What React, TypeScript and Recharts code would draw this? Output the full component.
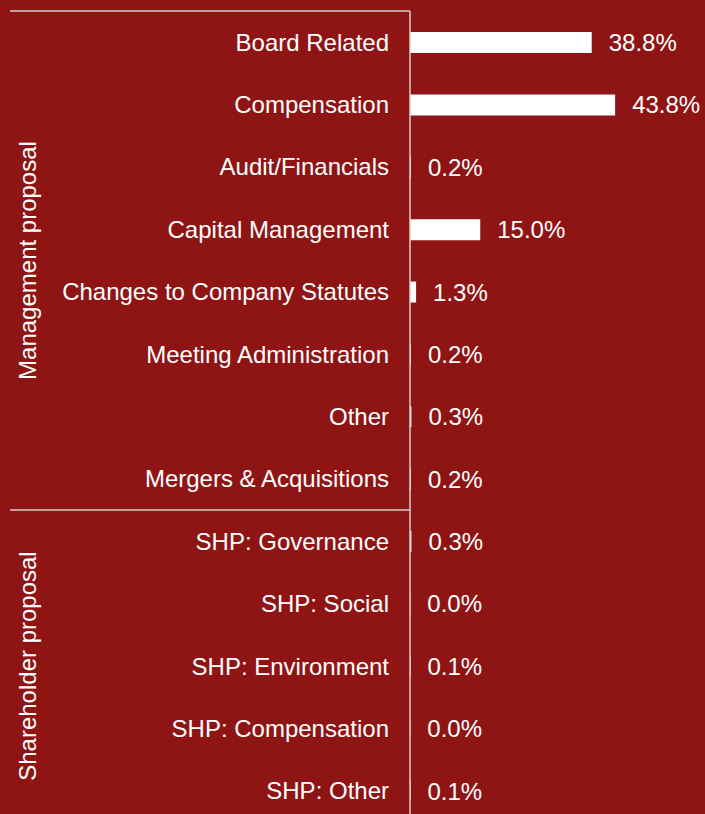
import { BarChart, Bar, XAxis, YAxis, LabelList } from "recharts";

const categories = [
  "Board Related",
  "Compensation",
  "Audit/Financials",
  "Capital Management",
  "Changes to Company Statutes",
  "Meeting Administration",
  "Other",
  "Mergers & Acquisitions",
  "SHP: Governance",
  "SHP: Social",
  "SHP: Environment",
  "SHP: Compensation",
  "SHP: Other",
];
const shares = [38.8, 43.8, 0.2, 15.0, 1.3, 0.2, 0.3, 0.2, 0.3, 0.0, 0.1, 0.0, 0.1];
const groups = [
  { name: "Management proposal", first: "Board Related", count: 8 },
  { name: "Shareholder proposal", first: "SHP: Governance", count: 5 },
];

const data = categories.map((c, i) => ({ category: c, value: shares[i] }));

const W = 705;
const H = 832;
const MARGIN = { top: 11, right: 14, bottom: 10, left: 0 };
const AXIS_W = 410;
const BAND = (H - MARGIN.top - MARGIN.bottom) / categories.length;
const FONT = "'Liberation Sans', Arial, sans-serif";
const FS = 24;
const BG = "#8f1515";
const LINE = "#d4cfcf";

function GroupTick(props: any) {
  const { y, payload } = props;
  const group = groups.find((g) => g.first === payload.value);
  const top = y - BAND / 2;
  const mid = top + (group ? group.count * BAND : 0) / 2;
  return (
    <g>
      <text x={AXIS_W - 21} y={y} textAnchor="end" dominantBaseline="central" fill="#fff" fontSize={FS} fontFamily={FONT}>
        {payload.value}
      </text>
      {group && (
        <g>
          <line x1={10} x2={AXIS_W} y1={top} y2={top} stroke={LINE} strokeWidth={1.5} />
          <text
            x={28}
            y={mid}
            transform={`rotate(-90, 28, ${mid})`}
            textAnchor="middle"
            dominantBaseline="central"
            fill="#fff"
            fontSize={FS}
            fontFamily={FONT}
          >
            {group.name}
          </text>
        </g>
      )}
    </g>
  );
}

export default function App() {
  return (
    <div style={{ position: "fixed", left: 0, top: 0, width: W, height: 814, overflow: "hidden", background: BG }}>
      <BarChart width={W} height={H} data={data} layout="vertical" margin={MARGIN} barCategoryGap={0}>
        <XAxis type="number" domain={[0, 60]} hide />
        <YAxis
          type="category"
          dataKey="category"
          width={AXIS_W}
          axisLine={{ stroke: LINE, strokeWidth: 1.5 }}
          tickLine={false}
          tick={<GroupTick />}
          interval={0}
        />
        <Bar dataKey="value" fill="#ffffff" barSize={21} minPointSize={0.3} isAnimationActive={false}>
          <LabelList
            dataKey="value"
            position="right"
            offset={17}
            fill="#ffffff"
            fontSize={FS}
            fontFamily={FONT}
            formatter={(v: any) => `${Number(v).toFixed(1)}%`}
          />
        </Bar>
      </BarChart>
    </div>
  );
}
